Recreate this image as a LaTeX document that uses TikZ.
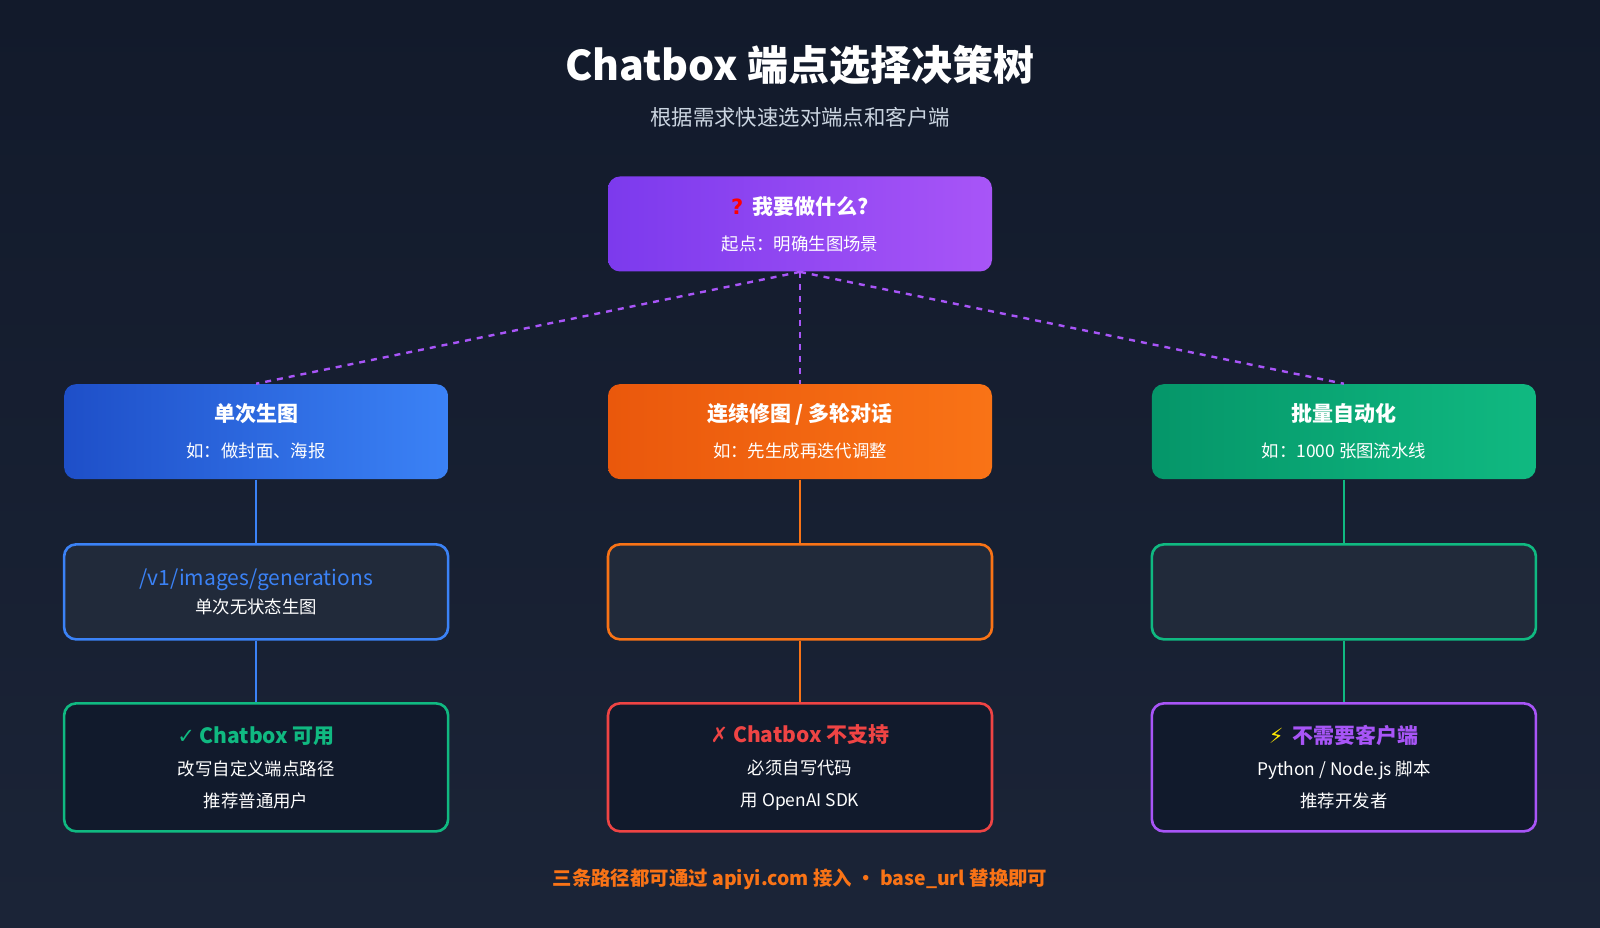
\documentclass[tikz,border=0pt]{standalone}
\usepackage{fontspec}
\setmainfont{Noto Sans CJK SC}
\newfontfamily\symfont{DejaVu Sans}
\usetikzlibrary{positioning}

\definecolor{bgtop}{HTML}{121A2B}
\definecolor{bgbot}{HTML}{1B2437}
\definecolor{cardbg}{HTML}{212A3A}
\definecolor{darkbg}{HTML}{111A2C}
\definecolor{purA}{HTML}{7C3AED}
\definecolor{purB}{HTML}{A855F7}
\definecolor{bluA}{HTML}{1E4FC8}
\definecolor{bluB}{HTML}{3B82F6}
\definecolor{oraA}{HTML}{EA580C}
\definecolor{oraB}{HTML}{F97316}
\definecolor{grnA}{HTML}{059669}
\definecolor{grnB}{HTML}{10B981}
\definecolor{redC}{HTML}{EF4444}
\definecolor{subgray}{HTML}{CBD5E1}

\tikzset{
  box/.style={rounded corners=6pt, minimum width=192pt, minimum height=47.5pt,
    align=center, inner sep=0pt, text=white},
  head/.style={box, font=\fontsize{10.5}{16}\selectfont},
  card/.style={box, draw, line width=1.3pt, fill=cardbg},
  leaf/.style={box, draw, line width=1.3pt, fill=darkbg, minimum height=64pt,
    font=\fontsize{8.7}{16}\selectfont},
  link/.style={line width=1.2pt},
  dashlink/.style={line width=1.2pt, purB, dash pattern=on 3pt off 3pt},
}
\newcommand{\sub}[1]{{\fontsize{8.7}{12}\selectfont #1}}

\begin{document}
\begin{tikzpicture}[x=0.5102pt, y=-0.5102pt]
    \shade[top color=bgtop, bottom color=bgbot] (0,0) rectangle (1568,909.4);
    \useasboundingbox (0,0) rectangle (1568,909.4);

    \node[text=white, font=\fontsize{20.5}{24}\selectfont\bfseries] (title) at (784,64) {Chatbox 端点选择决策树};
    \node[text=subgray, font=\fontsize{10.7}{13}\selectfont] (subtitle) at (784,115) {根据需求快速选对端点和客户端};

    % start node
    \node[head, left color=purA, right color=purB] (start) at (784,219.5)
      {{\color{red}\symfont\bfseries ?}\ \ \textbf{我要做什么?}\\[2pt]\sub{起点：明确生图场景}};

    % scenarios
    \node[head, left color=bluA, right color=bluB] (single) at (251,423)
      {\textbf{单次生图}\\[2pt]\sub{如：做封面、海报}};
    \node[head, left color=oraA, right color=oraB] (multi) at (784,423)
      {\textbf{连续修图 / 多轮对话}\\[2pt]\sub{如：先生成再迭代调整}};
    \node[head, left color=grnA, right color=grnB] (batch) at (1317,423)
      {\textbf{批量自动化}\\[2pt]\sub{如：1000 张图流水线}};

    % endpoints
    \node[card, draw=bluB] (ep1) at (251,580)
      {{\color{bluB}\fontsize{10.5}{16}\selectfont /v1/images/generations}\\[2pt]\sub{单次无状态生图}};
    \node[card, draw=oraB] (ep2) at (784,580) {};
    \node[card, draw=grnB] (ep3) at (1317,580) {};

    % results
    \node[leaf, draw=grnB] (res1) at (251,752)
      {{\color{grnB}\fontsize{10.5}{16}\selectfont\bfseries{\symfont ✓} Chatbox 可用}\\改写自定义端点路径\\推荐普通用户};
    \node[leaf, draw=redC] (res2) at (784,752)
      {{\color{redC}\fontsize{10.5}{16}\selectfont\bfseries{\symfont ✗} Chatbox 不支持}\\必须自写代码\\用 OpenAI SDK};
    \node[leaf, draw=purB] (res3) at (1317,752)
      {{\fontsize{10.5}{16}\selectfont{\color{yellow!90!orange}\symfont ⚡}\ \ {\color{purB}\bfseries 不需要客户端}}\\Python / Node.js 脚本\\推荐开发者};

    % connectors
    \draw[dashlink] (start.south) -- (single.north);
    \draw[dashlink] (start.south) -- (multi.north);
    \draw[dashlink] (start.south) -- (batch.north);
    \draw[link, bluB] (single) -- (ep1);
    \draw[link, bluB] (ep1) -- (res1);
    \draw[link, oraB] (multi) -- (ep2);
    \draw[link, oraB] (ep2) -- (res2);
    \draw[link, grnB] (batch) -- (ep3);
    \draw[link, grnB] (ep3) -- (res3);

    \node[text=oraB, font=\fontsize{9.7}{12}\selectfont\bfseries] (footer) at (784,862)
      {三条路径都可通过 apiyi.com 接入 · base\_url 替换即可};
\end{tikzpicture}
\end{document}
